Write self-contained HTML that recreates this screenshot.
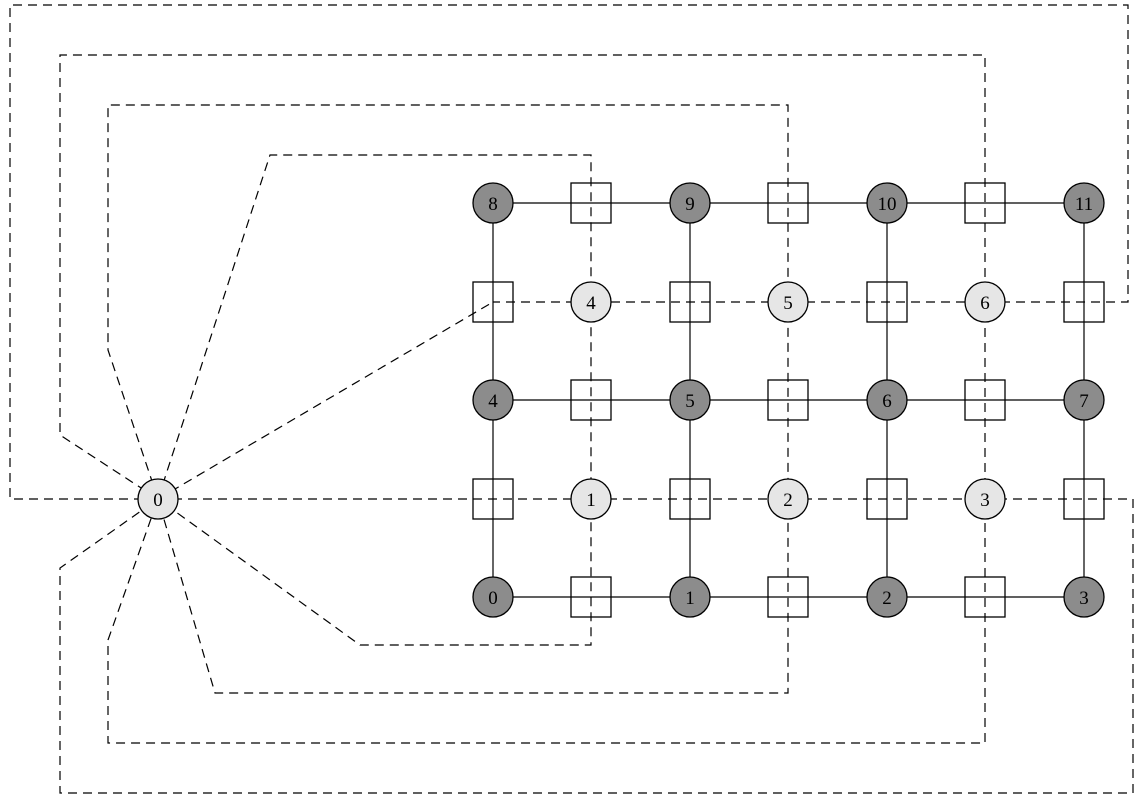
<!DOCTYPE html>
<html><head><meta charset="utf-8"><style>body{margin:0;background:#fff}</style></head><body>
<svg width="1143" height="806" xmlns="http://www.w3.org/2000/svg" font-family="Liberation Serif, serif" font-size="19">
<g fill="none" stroke="#000" stroke-width="1.2" stroke-dasharray="9,6">
<path d="M158,499 H10 V5 H1128 V302 H493"/>
<path d="M158,499 L60,435 V55 H985 V743 H108 V640 L158,499"/>
<path d="M158,499 L108,350 V105 H788 V693 H215 L158,499"/>
<path d="M158,499 L270,155 H591 V645 H360 L158,499"/>
<path d="M158,499 L493,302"/>
<path d="M158,499 H1133 V793 H60 V568 L158,499"/>
</g>
<g stroke="#000" stroke-width="1.2" fill="none">
<path d="M493,203 H1084 M493,400 H1084 M493,597 H1084 M493,203 V597 M690,203 V597 M887,203 V597 M1084,203 V597"/>
</g>
<g fill="none" stroke="#000" stroke-width="1.3">
<rect x="571" y="183" width="40" height="40"/><rect x="768" y="183" width="40" height="40"/><rect x="965" y="183" width="40" height="40"/>
<rect x="571" y="380" width="40" height="40"/><rect x="768" y="380" width="40" height="40"/><rect x="965" y="380" width="40" height="40"/>
<rect x="571" y="577" width="40" height="40"/><rect x="768" y="577" width="40" height="40"/><rect x="965" y="577" width="40" height="40"/>
<rect x="473" y="282" width="40" height="40"/><rect x="670" y="282" width="40" height="40"/><rect x="867" y="282" width="40" height="40"/><rect x="1064" y="282" width="40" height="40"/>
<rect x="473" y="479" width="40" height="40"/><rect x="670" y="479" width="40" height="40"/><rect x="867" y="479" width="40" height="40"/><rect x="1064" y="479" width="40" height="40"/>
</g>
<g stroke="#000" stroke-width="1.3">
<g fill="#8c8c8c">
<circle cx="493" cy="203" r="20"/><circle cx="690" cy="203" r="20"/><circle cx="887" cy="203" r="20"/><circle cx="1084" cy="203" r="20"/>
<circle cx="493" cy="400" r="20"/><circle cx="690" cy="400" r="20"/><circle cx="887" cy="400" r="20"/><circle cx="1084" cy="400" r="20"/>
<circle cx="493" cy="597" r="20"/><circle cx="690" cy="597" r="20"/><circle cx="887" cy="597" r="20"/><circle cx="1084" cy="597" r="20"/>
</g>
<g fill="#e6e6e6">
<circle cx="591" cy="302" r="20"/><circle cx="788" cy="302" r="20"/><circle cx="985" cy="302" r="20"/>
<circle cx="591" cy="499" r="20"/><circle cx="788" cy="499" r="20"/><circle cx="985" cy="499" r="20"/>
<circle cx="158" cy="499" r="20"/>
</g>
</g>
<g text-anchor="middle" fill="#000">
<text x="493" y="210">8</text><text x="690" y="210">9</text><text x="887" y="210">10</text><text x="1084" y="210">11</text>
<text x="493" y="407">4</text><text x="690" y="407">5</text><text x="887" y="407">6</text><text x="1084" y="407">7</text>
<text x="493" y="604">0</text><text x="690" y="604">1</text><text x="887" y="604">2</text><text x="1084" y="604">3</text>
<text x="591" y="309">4</text><text x="788" y="309">5</text><text x="985" y="309">6</text>
<text x="591" y="506">1</text><text x="788" y="506">2</text><text x="985" y="506">3</text>
<text x="158" y="506">0</text>
</g>
</svg>
</body></html>
